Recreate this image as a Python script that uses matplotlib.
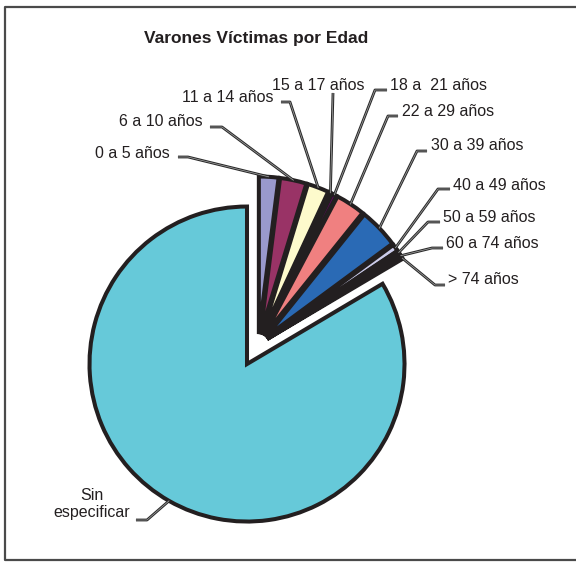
import math
import matplotlib
matplotlib.use('Agg')
import matplotlib.pyplot as plt

plt.rcParams['font.family'] = ['Liberation Sans', 'DejaVu Sans']

# Datos (porcentaje del total, estimados a partir del gráfico)
edades = ['0 a 5 años', '6 a 10 años', '11 a 14 años', '15 a 17 años',
          '18 a  21 años', '22 a 29 años', '30 a 39 años', '40 a 49 años',
          '50 a 59 años', '60 a 74 años', '> 74 años', 'Sin\nespecificar']
porcentajes = [2.0, 2.72, 2.19, 0.33, 0.5, 3.03, 4.11, 0.72, 0.36, 0.36, 0.17, 83.5]
colores = ['#9999cc', '#993366', '#fdfacc', '#ccf5f5', '#660066', '#f08080',
           '#2a6ab5', '#ccccea', '#1c1c80', '#cc44aa', '#ffff00', '#66c9d9']

# Posiciones de etiquetas (pixeles de la imagen) y tramo horizontal de la guía
pos_etiquetas = [(170, 153, 'right'), (203, 122, 'right'), (273, 98, 'right'),
                 (318, 85, 'center'), (390, 86, 'left'), (402, 111, 'left'),
                 (431, 146, 'left'), (453, 185, 'left'), (443, 217, 'left'),
                 (446, 244, 'left'), (448, 279, 'left'), (92, 504, 'center')]
tramos = [((178, 157), (188, 157)), ((210, 127), (222, 127)), ((281, 102), (290, 102)),
          ((333, 93), (333, 93)), ((387, 90), (375, 90)), ((398, 116), (388, 116)),
          ((427, 151), (417, 151)), ((450, 189), (438, 189)), ((440, 222), (428, 222)),
          ((443, 248), (432, 248)), ((445, 285), (435, 285)), ((136, 520), (147, 520))]

fig = plt.figure(figsize=(5.76, 5.62), dpi=100)
ax = fig.add_axes([0, 0, 1, 1])

# eje y invertido -> startangle=-90 y counterclock=True dibuja desde arriba en sentido horario
radio = 157.5
explode = [10.4] * (len(porcentajes) - 1) + [22.6]   # desplazamiento en pixeles
wedges, _ = ax.pie(porcentajes, colors=colores, explode=explode, radius=radio,
                   center=(258.2, 344.4), startangle=-90, counterclock=True,
                   frame=True,
                   wedgeprops=dict(edgecolor='#231f20', linewidth=2.9))

ax.set_xlim(0, 576)
ax.set_ylim(562, 0)
ax.set_aspect('equal')
ax.axis('off')

for w, texto, (tx, ty, ha), (p0, p1) in zip(wedges, edades, pos_etiquetas, tramos):
    ang = math.radians((w.theta1 + w.theta2) / 2)
    axx = w.center[0] + w.r * math.cos(ang)
    ayy = w.center[1] + w.r * math.sin(ang)
    xs = [p0[0], p1[0], axx]
    ys = [p0[1], p1[1], ayy]
    ax.plot(xs, ys, color='#2a2a2a', lw=2.0, solid_capstyle='butt', zorder=5)
    ax.plot(xs, ys, color='#a8a8a8', lw=0.5, zorder=6)
    ax.text(tx, ty, texto, ha=ha, va='center', fontsize=11.5, color='#231f20',
            multialignment='center', linespacing=1.1)

ax.text(256, 38, 'Varones Víctimas por Edad', ha='center', va='center',
        fontsize=12.5, fontweight='bold', color='#231f20')

# marco
ax.plot([576, 5, 5, 576], [7, 7, 560, 560], color='#4a4a4a', lw=1.6, clip_on=False)

plt.savefig('out.png', dpi=100)
